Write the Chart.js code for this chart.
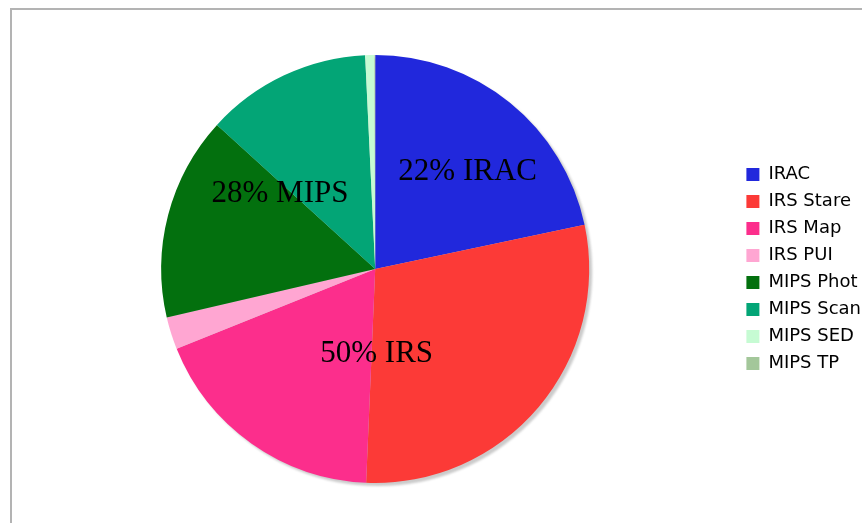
<!DOCTYPE html>
<html><head><meta charset="utf-8">
<script src="https://cdn.jsdelivr.net/npm/chart.js@4"></script>
<style>html,body{margin:0;padding:0;background:#fff;}#wrap{width:862px;height:523px;position:relative;}</style>
</head><body><div id="wrap"><canvas id="c"></canvas></div>
<script>
const categories = ["IRAC","IRS Stare","IRS Map","IRS PUI","MIPS Phot","MIPS Scan","MIPS SED","MIPS TP"];
const values = [21.7, 29.0, 18.25, 2.45, 15.4, 12.5, 0.7, 0.05];
const colors = ["#2128DC","#FC3A37","#FC2E8C","#FFA6D2","#03700E","#03A576","#C6FBD3","#A3C79A"];
const groupLabels = ["22% IRAC","50% IRS","28% MIPS"];
const groupOffsets = [[0.432,-0.418],[0.007,0.434],[-0.445,-0.313]];

const framePlugin = {
  id:'frame',
  beforeDraw(chart){
    const ctx = chart.ctx;
    ctx.save();
    ctx.fillStyle = '#fff';
    ctx.fillRect(0,0,chart.width,chart.height);
    ctx.strokeStyle = '#b3b3b3';
    ctx.lineWidth = 2;
    ctx.beginPath();
    ctx.moveTo(11, chart.height);
    ctx.lineTo(11, 9);
    ctx.lineTo(chart.width, 9);
    ctx.stroke();
    ctx.restore();
  },
  beforeDatasetsDraw(chart){
    const arc = chart.getDatasetMeta(0).data[0];
    if(!arc) return;
    const ctx = chart.ctx;
    ctx.save();
    ctx.fillStyle = 'rgba(160,160,160,0.55)';
    ctx.filter = 'blur(1px)';
    ctx.beginPath();
    ctx.arc(arc.x+3, arc.y+3, arc.outerRadius, 0, Math.PI*2);
    ctx.fill();
    ctx.restore();
  },
  afterDatasetsDraw(chart){
    const arc = chart.getDatasetMeta(0).data[0];
    if(!arc) return;
    const ctx = chart.ctx;
    ctx.save();
    ctx.fillStyle = '#000';
    ctx.font = '31px "Liberation Serif", "Times New Roman", serif';
    ctx.textAlign = 'center';
    ctx.textBaseline = 'alphabetic';
    groupLabels.forEach((t,i)=>{
      ctx.fillText(t, arc.x + groupOffsets[i][0]*arc.outerRadius, arc.y + groupOffsets[i][1]*arc.outerRadius);
    });
    ctx.restore();
  }
};

new Chart(document.getElementById('c'), {
  type:'pie',
  data:{labels:categories, datasets:[{data:values, backgroundColor:colors, borderWidth:0}]},
  options:{
    responsive:true, maintainAspectRatio:false, animation:false,
    layout:{padding:{left:13, top:55, bottom:40, right:-9}},
    plugins:{
      tooltip:{enabled:false},
      legend:{position:'right', labels:{boxWidth:13, boxHeight:13, padding:9, color:'#000',
        font:{family:'"DejaVu Sans", Verdana, sans-serif', size:18}}}
    }
  },
  plugins:[framePlugin]
});
</script></body></html>
